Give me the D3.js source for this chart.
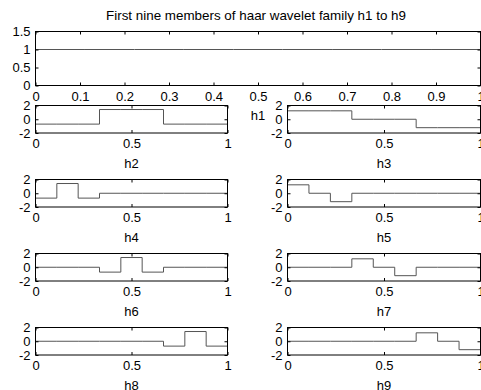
<!DOCTYPE html>
<html>
<head>
<meta charset="utf-8">
<script src="https://cdn.jsdelivr.net/npm/d3@7"></script>
<style>
  html, body { margin: 0; padding: 0; background: #fff; }
</style>
</head>
<body>
<svg id="chart" width="481" height="390"></svg>
<script>
// Haar family on 9 equal cells of [0,1]: breakpoints and piecewise levels
const titleText = "First nine members of haar wavelet family h1 to h9";
const names = ["h1", "h2", "h3", "h4", "h5", "h6", "h7", "h8", "h9"];
const edges = [0, 1/9, 2/9, 3/9, 4/9, 5/9, 6/9, 7/9, 8/9, 1];
const h1 = [1, 1, 1, 1, 1, 1, 1, 1, 1];
const h2 = [-0.707, -0.707, -0.707, 1.414, 1.414, 1.414, -0.707, -0.707, -0.707];
const h3 = [1.225, 1.225, 1.225, 0, 0, 0, -1.225, -1.225, -1.225];
const h4 = [-0.707, 1.414, -0.707, 0, 0, 0, 0, 0, 0];
const h5 = [1.225, 0, -1.225, 0, 0, 0, 0, 0, 0];
const h6 = [0, 0, 0, -0.707, 1.414, -0.707, 0, 0, 0];
const h7 = [0, 0, 0, 1.225, 0, -1.225, 0, 0, 0];
const h8 = [0, 0, 0, 0, 0, 0, -0.707, 1.414, -0.707];
const h9 = [0, 0, 0, 0, 0, 0, 1.225, 0, -1.225];
const series = [h1, h2, h3, h4, h5, h6, h7, h8, h9];

const topXTicks = [0, 0.1, 0.2, 0.3, 0.4, 0.5, 0.6, 0.7, 0.8, 0.9, 1];
const topYTicks = [0, 0.5, 1, 1.5];
const smallXTicks = [0, 0.5, 1];
const smallYTicks = [-2, 0, 2];

const FONT = "'Liberation Sans', Arial, Helvetica, sans-serif";

const svg = d3.select("#chart");
const TICK = 3;

function styleText(sel, size = "13px") {
  sel.style("font-family", FONT).style("font-size", size).style("fill", "#000");
}

svg.append("text")
  .attr("x", 256).attr("y", 20)
  .attr("text-anchor", "middle")
  .text(titleText)
  .call(styleText, "13.4px");

// plain hyphen-minus labels
const fmt = d => String(d);

function panel(box, xDomain, yDomain, xTicks, yTicks, values, label, labelY) {
  const x = d3.scaleLinear().domain(xDomain).range([box.x0, box.x1]);
  const y = d3.scaleLinear().domain(yDomain).range([box.y1, box.y0]);
  const g = svg.append("g");

  // step trace
  const pts = [];
  values.forEach((v, i) => {
    pts.push([edges[i], v]);
    pts.push([edges[i + 1], v]);
  });
  g.append("path")
    .attr("d", d3.line().x(d => x(d[0])).y(d => y(d[1]))(pts))
    .attr("fill", "none")
    .attr("stroke", "#555")
    .attr("stroke-width", 1);

  // inward ticks on all four sides
  const axB = d3.axisBottom(x).tickValues(xTicks).tickSizeInner(-TICK).tickSizeOuter(0).tickPadding(6).tickFormat(fmt);
  const axT = d3.axisTop(x).tickValues(xTicks).tickSizeInner(-TICK).tickSizeOuter(0).tickFormat("");
  const axL = d3.axisLeft(y).tickValues(yTicks).tickSizeInner(-TICK).tickSizeOuter(0).tickPadding(5).tickFormat(fmt);
  const axR = d3.axisRight(y).tickValues(yTicks).tickSizeInner(-TICK).tickSizeOuter(0).tickFormat("");

  [
    [axB, `translate(0,${box.y1})`],
    [axT, `translate(0,${box.y0})`],
    [axL, `translate(${box.x0},0)`],
    [axR, `translate(${box.x1},0)`]
  ].forEach(([ax, tr]) => {
    const a = g.append("g").attr("transform", tr).call(ax);
    a.select(".domain").remove();
    a.selectAll("line").attr("stroke", "#000");
    a.selectAll("text").call(styleText);
  });

  g.append("rect")
    .attr("x", box.x0).attr("y", box.y0)
    .attr("width", box.x1 - box.x0).attr("height", box.y1 - box.y0)
    .attr("fill", "none").attr("stroke", "#000").attr("stroke-width", 1);

  g.append("text")
    .attr("x", (box.x0 + box.x1) / 2).attr("y", labelY)
    .attr("text-anchor", "middle")
    .text(label)
    .call(styleText);
}

// wide top panel
panel({ x0: 35.5, x1: 480.5, y0: 31.5, y1: 85.5 }, [0, 1], [0, 1.5],
  topXTicks, topYTicks, series[0], names[0], 120);

// 2 x 4 grid of small panels
const colX = [[35.5, 227.5], [287.5, 480.5]];
const rowY = [105.5, 179.5, 253.5, 327.5];
const rowH = 27.5;
for (let k = 1; k < 9; k++) {
  const r = Math.floor((k - 1) / 2);
  const c = (k - 1) % 2;
  panel({ x0: colX[c][0], x1: colX[c][1], y0: rowY[r], y1: rowY[r] + rowH },
    [0, 1], [-2, 2], smallXTicks, smallYTicks, series[k], names[k], rowY[r] + rowH + 35);
}
</script>
</body>
</html>
